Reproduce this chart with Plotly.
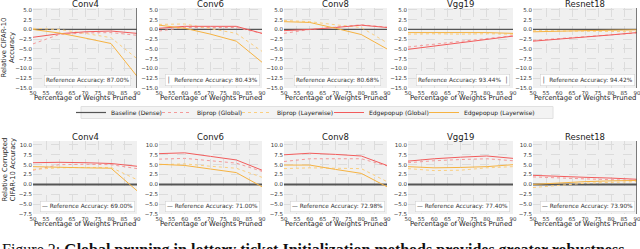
import plotly.graph_objects as go
from plotly.subplots import make_subplots

# ---------------- data ----------------
models = ["Conv4", "Conv6", "Conv8", "Vgg19", "Resnet18"]
pruned = [50, 60, 70, 80, 90]
x_ticks = [50, 55, 60, 65, 70, 75, 80, 85, 90]
top_y_ticks = [5.0, 2.5, 0.0, -2.5, -5.0, -7.5, -10.0, -12.5, -15.0]
bot_y_ticks = [10.0, 7.5, 5.0, 2.5, 0.0, -2.5, -5.0, -7.5]

series_names = ["Baseline (Dense)", "Biprop (Global)", "Biprop (Layerwise)",
                "Edgepopup (Global)", "Edgepopup (Layerwise)"]

# Top row: relative CIFAR-10 accuracy
top_baseline = [0, 0, 0, 0, 0]
top_biprop_global = {
    "Conv4": [-3.7, -1.3, -0.9, -0.8, -1.5],
    "Conv6": [-0.4, 0.5, 0.5, 0.5, -1.0],
    "Conv8": [-1.0, 0.0, 0.6, 1.2, 0.6],
    "Vgg19": [-4.5, -3.8, -3.0, -2.3, -1.6],
    "Resnet18": [-2.8, -2.3, -1.8, -1.3, -0.9],
}
top_biprop_layer = {
    "Conv4": [0.3, 0.0, -1.0, -2.1, -7.5],
    "Conv6": [1.3, 1.4, 0.2, -1.0, -5.6],
    "Conv8": [2.3, 2.0, 1.2, 0.5, -3.4],
    "Vgg19": [-1.2, -1.1, -1.2, -1.1, -1.2],
    "Resnet18": [-0.3, -0.4, -0.4, -0.5, -0.6],
}
top_edge_global = {
    "Conv4": [-2.0, -1.1, -0.6, -0.4, -1.0],
    "Conv6": [0.3, 0.8, 0.8, 0.8, -1.0],
    "Conv8": [-0.3, 0.0, 0.5, 1.1, 0.5],
    "Vgg19": [-5.1, -4.3, -3.4, -2.6, -1.7],
    "Resnet18": [-3.0, -2.5, -1.9, -1.4, -0.8],
}
top_edge_layer = {
    "Conv4": [0.0, -0.9, -2.2, -3.6, -12.0],
    "Conv6": [1.1, 0.3, -1.2, -3.0, -8.4],
    "Conv8": [2.0, 1.8, 0.3, -1.3, -5.0],
    "Vgg19": [-0.8, -0.8, -0.8, -0.8, -1.0],
    "Resnet18": [-0.6, -0.4, -0.3, -0.2, -0.1],
}
top_ref_text = ["Reference Accuracy: 87.00%", "│  Reference Accuracy: 80.43%",
                "Reference Accuracy: 80.68%", "Reference Accuracy: 93.44%  │",
                "│  Reference Accuracy: 94.42%"]

# Bottom row: relative corrupted CIFAR-10 accuracy
bot_baseline = [0, 0, 0, 0, 0]
bot_biprop_global = {
    "Conv4": [3.6, 5.0, 5.1, 5.0, 4.0],
    "Conv6": [6.4, 6.6, 6.0, 5.4, 3.3],
    "Conv8": [5.8, 6.5, 6.5, 6.5, 4.7],
    "Vgg19": [5.5, 6.0, 6.3, 6.5, 6.0],
    "Resnet18": [1.9, 1.6, 1.4, 1.2, 1.0],
}
bot_biprop_layer = {
    "Conv4": [3.8, 4.2, 4.3, 4.3, 1.2],
    "Conv6": [5.0, 5.2, 4.6, 4.1, 1.8],
    "Conv8": [4.0, 4.2, 4.1, 4.0, 0.7],
    "Vgg19": [4.0, 3.5, 3.6, 4.2, 4.5],
    "Resnet18": [-0.8, -0.2, 0.3, 0.5, 0.7],
}
bot_edge_global = {
    "Conv4": [5.5, 5.6, 5.5, 5.3, 4.6],
    "Conv6": [7.8, 8.0, 7.1, 6.2, 3.6],
    "Conv8": [7.5, 7.9, 7.6, 7.2, 4.8],
    "Vgg19": [5.9, 6.5, 6.9, 7.2, 6.6],
    "Resnet18": [2.3, 2.0, 1.8, 1.6, 1.3],
}
bot_edge_layer = {
    "Conv4": [4.5, 4.3, 4.2, 4.1, -1.6],
    "Conv6": [5.1, 4.8, 3.9, 3.0, -0.6],
    "Conv8": [4.9, 4.9, 3.8, 2.8, -0.6],
    "Vgg19": [4.5, 4.2, 4.3, 4.5, 5.0],
    "Resnet18": [0.0, 0.4, 0.7, 0.9, 1.0],
}
bot_ref_text = ["— Reference Accuracy: 69.00%", "— Reference Accuracy: 71.00%",
                "— Reference Accuracy: 72.98%", "— Reference Accuracy: 77.40%",
                "— Reference Accuracy: 73.90%"]

# ---------------- styling ----------------
W, H = 640, 249
col_px = [(33, 137), (159, 262), (284, 387), (408, 513), (533, 637)]
row_px = [(8, 88), (141, 214)]
legend_text_px = [120, 206, 286, 378, 473]   # where each legend label starts
legend_ids = ["legend", "legend2", "legend3", "legend4", "legend5"]
FONT = "DejaVu Sans"
colors = {
    "Baseline (Dense)": "#555555",
    "Biprop (Global)": "#f49a9a",
    "Biprop (Layerwise)": "#fbcf80",
    "Edgepopup (Global)": "#f25c5c",
    "Edgepopup (Layerwise)": "#f6b342",
}
dashes = {
    "Baseline (Dense)": "solid",
    "Biprop (Global)": "dot",
    "Biprop (Layerwise)": "dot",
    "Edgepopup (Global)": "solid",
    "Edgepopup (Layerwise)": "solid",
}

fig = make_subplots(rows=2, cols=5)

rows_data = [
    (top_baseline, top_biprop_global, top_biprop_layer, top_edge_global, top_edge_layer),
    (bot_baseline, bot_biprop_global, bot_biprop_layer, bot_edge_global, bot_edge_layer),
]

for r, (base, bg, bl, eg, el) in enumerate(rows_data):
    for c, m in enumerate(models):
        vals = [base, bg[m], bl[m], eg[m], el[m]]
        for k, (name, v) in enumerate(zip(series_names, vals)):
            w = 1.0
            if name.startswith("Baseline"):
                w = 1.2 if r == 0 else 2.0
            fig.add_trace(go.Scatter(
                x=pruned, y=v, mode="lines", name=name,
                line=dict(color=colors[name], width=w, dash=dashes[name]),
                showlegend=(r == 0 and c == 0), legendgroup=name,
                legend=legend_ids[k],
            ), row=r + 1, col=c + 1)

# axes domains and styling
for r in range(2):
    for c in range(5):
        idx = r * 5 + c + 1
        xa = "xaxis" if idx == 1 else f"xaxis{idx}"
        ya = "yaxis" if idx == 1 else f"yaxis{idx}"
        x0, x1 = col_px[c]
        y0, y1 = row_px[r]
        fig.layout[xa].update(
            domain=[x0 / W, x1 / W], range=[50, 90], tickvals=x_ticks,
            showgrid=True, gridcolor="#dcdcdc", griddash="dash", gridwidth=1,
            zeroline=False, showline=False, ticks="", automargin=False,
            ticklabeloverflow="allow",
            tickfont=dict(family=FONT, size=5.5, color="#333333"),
        )
        if r == 0:
            yr, yt = [-15, 5.5], top_y_ticks
        else:
            yr, yt = [-7.5, 11], bot_y_ticks
        fig.layout[ya].update(
            domain=[1 - y1 / H, 1 - y0 / H], range=yr, tickvals=yt,
            tickformat=".1f", automargin=False, ticklabeloverflow="allow",
            showgrid=True, gridcolor="#dcdcdc", griddash="dash", gridwidth=1,
            zeroline=False, showline=False, ticks="",
            tickfont=dict(family=FONT, size=5.5, color="#333333"),
        )
        xc = (x0 + x1) / 2 / W
        # x-axis title
        fig.add_annotation(
            text="Percentage of Weights Pruned", xref="paper", yref="paper",
            x=xc, xanchor="center", y=1 - (y1 + 10) / H, yanchor="middle",
            showarrow=False, font=dict(family=FONT, size=6.8, color="#222222"),
        )
        # subplot titles
        fig.add_annotation(
            text=models[c], xref="paper", yref="paper",
            x=xc, xanchor="center", y=1 - (y0 - 4) / H, yanchor="middle",
            showarrow=False, font=dict(family=FONT, size=8.5, color="#222222"),
        )
        # reference accuracy box
        reftxt = top_ref_text[c] if r == 0 else bot_ref_text[c]
        fig.add_annotation(
            text=reftxt, xref="paper", yref="paper",
            x=xc + 2 / W, xanchor="center", y=1 - (y1 - 8) / H, yanchor="middle",
            showarrow=False, font=dict(family=FONT, size=5.8, color="#333333"),
            bgcolor="white", bordercolor="#cccccc", borderwidth=0.5, borderpad=1.5,
        )

# dark right-edge lines present in some panels
edge_panels = [(1, 1), (1, 5), (2, 5)]
for (r, c) in edge_panels:
    fig.add_vline(x=90, line=dict(color="#555555", width=1.5), row=r, col=c)

# y-axis titles
fig.add_annotation(text="Relative CIFAR-10<br>Accuracy", xref="paper", yref="paper",
                   x=8.5 / W, xanchor="center", y=1 - 48 / H, yanchor="middle",
                   textangle=-90, showarrow=False,
                   font=dict(family=FONT, size=6.8, color="#222222"))
fig.add_annotation(text="Relative Corrupted<br>CIFAR-10 Accuracy", xref="paper", yref="paper",
                   x=8.5 / W, xanchor="center", y=1 - 170 / H, yanchor="middle",
                   textangle=-90, showarrow=False,
                   font=dict(family=FONT, size=6.8, color="#222222"))

# caption (cut off by the image bottom)
fig.add_annotation(
    text="Figure 2: <b>Global pruning in lottery ticket Initialization methods provides greater robustness</b>",
    xref="paper", yref="paper", x=0, xanchor="left", y=1 - 239 / H, yanchor="top",
    showarrow=False, font=dict(family="Liberation Serif", size=16, color="#111111"),
)

# legend frame (one shared box behind the five single-entry legends)
fig.add_shape(type="rect", xref="paper", yref="paper",
              x0=81 / W, x1=553 / W, y0=1 - 118.5 / H, y1=1 - 106.5 / H,
              fillcolor="#f3f3f3", line=dict(color="#e0e0e0", width=1), layer="below")

legend_common = dict(orientation="h", yanchor="middle", y=1 - 112.5 / H, xanchor="left",
                     font=dict(family=FONT, size=6, color="#222222"),
                     bgcolor="rgba(0,0,0,0)", borderwidth=0, itemwidth=30,
                     tracegroupgap=0)
legend_layout = {}
for lid, tx in zip(legend_ids, legend_text_px):
    legend_layout[lid] = dict(legend_common, x=(tx - 49) / W)

fig.update_layout(
    width=W, height=H, margin=dict(l=0, r=0, t=0, b=0, autoexpand=False),
    paper_bgcolor="white", plot_bgcolor="#f0f0f0",
    font=dict(family=FONT),
    **legend_layout,
)

fig.write_html(
    "out.html",
    config={"displayModeBar": False},
    post_script="document.body.style.margin='0';document.body.style.overflow='hidden';",
)
